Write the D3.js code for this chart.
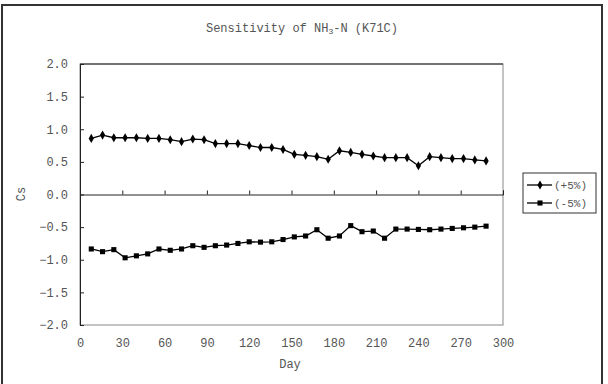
<!DOCTYPE html>
<html><head><meta charset="utf-8">
<script src="https://cdn.jsdelivr.net/npm/d3@7"></script>
<style>
html,body{margin:0;padding:0;background:#fff;}
svg text{font-family:"Liberation Mono","DejaVu Sans Mono",monospace;fill:#555;}
</style></head>
<body><svg id="c" width="608" height="384"></svg>
<script>
const days = [8,16,24,32,40,48,56,64,72,80,88,96,104,112,120,128,136,144,152,160,168,176,184,192,200,208,216,224,232,240,248,256,264,272,280,288];
const plus5 = [0.86,0.91,0.87,0.87,0.87,0.86,0.86,0.84,0.81,0.85,0.84,0.78,0.78,0.78,0.75,0.72,0.72,0.69,0.615,0.60,0.58,0.54,0.67,0.645,0.615,0.59,0.565,0.565,0.565,0.44,0.58,0.565,0.55,0.55,0.53,0.515];
const minus5 = [-0.835,-0.876,-0.845,-0.97,-0.94,-0.91,-0.835,-0.855,-0.835,-0.785,-0.81,-0.785,-0.775,-0.75,-0.725,-0.73,-0.725,-0.69,-0.65,-0.636,-0.54,-0.67,-0.636,-0.477,-0.57,-0.56,-0.67,-0.53,-0.53,-0.535,-0.54,-0.53,-0.52,-0.51,-0.50,-0.485];
const xTicks = [0,30,60,90,120,150,180,210,240,270,300];
const yTicks = [-2.0,-1.5,-1.0,-0.5,0.0,0.5,1.0,1.5,2.0];
const seriesNames = ["(+5%)","(-5%)"];

const svg = d3.select("#c");
// outer frame
svg.append("rect").attr("x",2).attr("y",5).attr("width",600).attr("height",384)
  .attr("fill","#fff").attr("stroke","#333").attr("stroke-width",2);

const x = d3.scaleLinear().domain([0,300]).range([80,503]);
const y = d3.scaleLinear().domain([-2,2]).range([325,64]);

// plot area border
svg.append("rect").attr("x",x(0)).attr("y",y(2)).attr("width",x(300)-x(0)).attr("height",y(-2)-y(2))
  .attr("fill","none").attr("stroke","#888").attr("stroke-width",1);
svg.append("line").attr("x1",x(0)).attr("x2",x(300)).attr("y1",y(2)).attr("y2",y(2)).attr("stroke","#222");

// y axis
const ya = svg.append("g").attr("transform",`translate(${x(0)},0)`)
  .call(d3.axisLeft(y).tickValues(yTicks).tickSize(-4).tickPadding(12).tickFormat(d3.format(".1f")));
ya.selectAll("path,line").attr("stroke","#222");
ya.selectAll("text").style("font-size","12px").style("fill","#555").style("font-family","Liberation Mono");

// zero axis with up ticks
const za = svg.append("g").attr("transform",`translate(0,${y(0)})`)
  .call(d3.axisTop(x).tickValues(xTicks).tickSize(4).tickFormat(""));
za.selectAll("path,line").attr("stroke","#222");

// bottom labels
const xa = svg.append("g").attr("transform",`translate(0,${y(-2)})`)
  .call(d3.axisBottom(x).tickValues(xTicks).tickSize(0).tickPadding(13));
xa.select(".domain").remove();
xa.selectAll("text").style("font-size","12px").style("fill","#555").style("font-family","Liberation Mono");

// titles
const t = svg.append("text").attr("x",302).attr("y",32).attr("text-anchor","middle").style("font-size","12px");
t.append("tspan").text("Sensitivity of NH");
t.append("tspan").text("3").style("font-size","8px").attr("dy",2);
t.append("tspan").text("-N (K71C)").attr("dy",-2);
svg.append("text").attr("x",290).attr("y",368).attr("text-anchor","middle").style("font-size","12px").text("Day");
svg.append("text").attr("transform","translate(25,194) rotate(-90)").attr("text-anchor","middle").style("font-size","12px").text("Cs");

const line = d3.line().x(d=>x(d[0])).y(d=>y(d[1]));
const s1 = days.map((d,i)=>[d,plus5[i]]);
const s2 = days.map((d,i)=>[d,minus5[i]]);
const diamond = d3.symbol().type(d3.symbolDiamond).size(24);
const square = d3.symbol().type(d3.symbolSquare).size(26);

svg.append("path").datum(s1).attr("d",line).attr("fill","none").attr("stroke","#000").attr("stroke-width",1.3);
svg.append("path").datum(s2).attr("d",line).attr("fill","none").attr("stroke","#000").attr("stroke-width",1.3);
svg.selectAll(".p1").data(s1).enter().append("path").attr("d",diamond)
  .attr("transform",d=>`translate(${x(d[0])},${y(d[1])})`).attr("fill","#000");
svg.selectAll(".p2").data(s2).enter().append("path").attr("d",square)
  .attr("transform",d=>`translate(${x(d[0])},${y(d[1])})`).attr("fill","#000");

// legend
const lg = svg.append("g");
lg.append("rect").attr("x",523).attr("y",173).attr("width",73).attr("height",40).attr("fill","#fff").attr("stroke","#333").attr("stroke-width",1);
[0,1].forEach(i=>{
  const yy = 185 + i*18;
  lg.append("line").attr("x1",527).attr("x2",552).attr("y1",yy).attr("y2",yy).attr("stroke","#000").attr("stroke-width",1.3);
  lg.append("path").attr("d", i===0?diamond:square).attr("transform",`translate(540,${yy})`).attr("fill","#000");
  lg.append("text").attr("x",554).attr("y",yy+4).style("font-size","11px").text(seriesNames[i]);
});
</script></body></html>
